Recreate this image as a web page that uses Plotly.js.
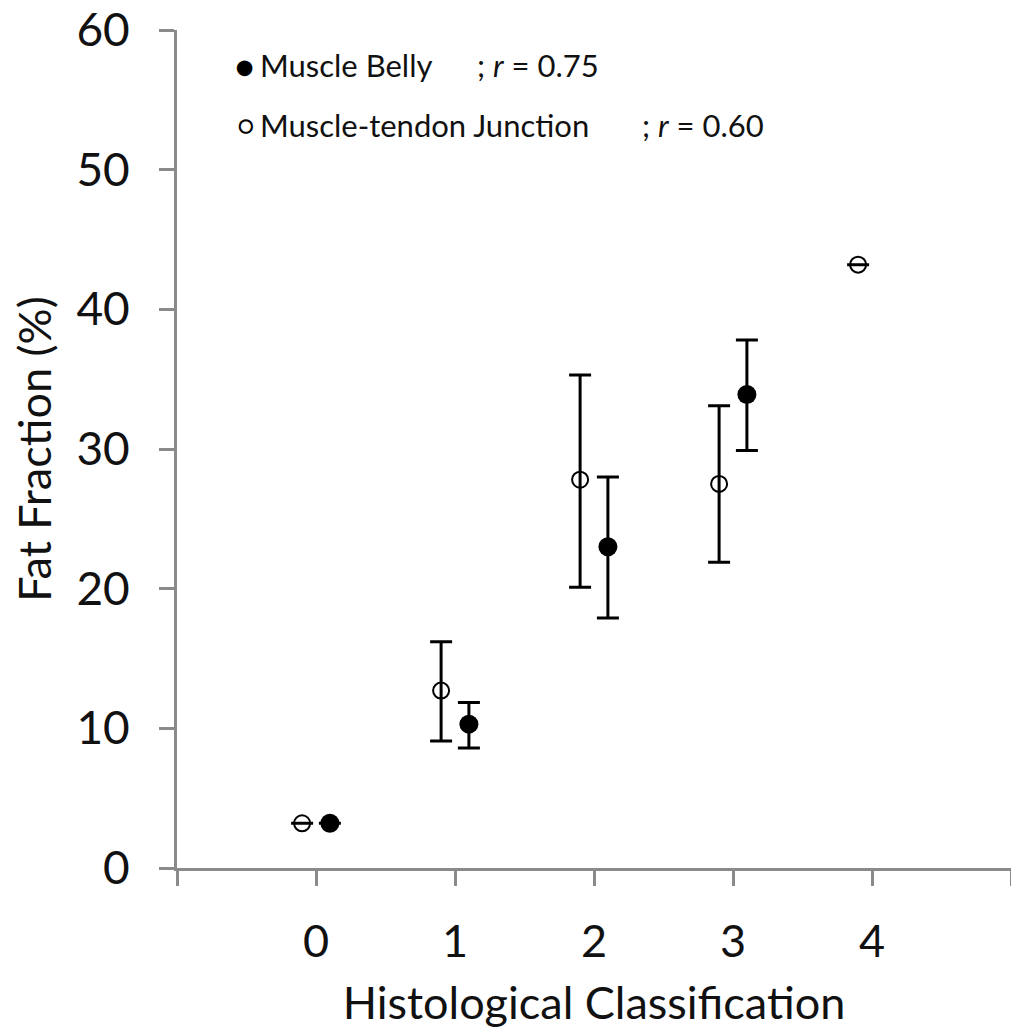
<!DOCTYPE html>
<html><head><meta charset="utf-8">
<script src="https://cdn.plot.ly/plotly-3.0.1.min.js"></script>
<style>html,body{margin:0;padding:0;overflow:hidden;background:#fff}</style>
</head><body><div id="chart"></div>
<script>
// Muscle Belly (filled)
const mbX = [0.1, 1.1, 2.1, 3.1];
const mbY = [3.2, 10.3, 23.0, 33.9];
const mbErrPlus = [0, 1.55, 5.0, 3.9];
const mbErrMinus = [0, 1.7, 5.1, 4.0];
// Muscle-tendon Junction (open)
const mtjX = [-0.1, 0.9, 1.9, 2.9, 3.9];
const mtjY = [3.2, 12.7, 27.8, 27.5, 43.2];
const mtjErrPlus = [0, 3.5, 7.5, 5.6, 0];
const mtjErrMinus = [0, 3.6, 7.7, 5.6, 0];

const xTickVals = [-1, 0, 1, 2, 3, 4, 5];
const xTickText = ['', '0', '1', '2', '3', '4', ''];
const yTickVals = [0, 10, 20, 30, 40, 50, 60];

const legendRows = [
  {symbol: '●', name: 'Muscle Belly', r: '0.75'},
  {symbol: '○', name: 'Muscle-tendon Junction', r: '0.60'}
];

const FONT = 'Lato, "Open Sans", sans-serif';
const AXC = '#8a8a8a';
const TXT = '#111';

const traces = [
  {
    x: mtjX, y: mtjY, type: 'scatter', mode: 'markers', name: 'Muscle-tendon Junction',
    marker: {symbol: 'circle-open', size: 16, color: '#000', line: {width: 2, color: '#000'}},
    error_y: {type: 'data', symmetric: false, array: mtjErrPlus, arrayminus: mtjErrMinus,
      thickness: 3, width: 11, color: '#000'},
    showlegend: false
  },
  {
    x: mbX, y: mbY, type: 'scatter', mode: 'markers', name: 'Muscle Belly',
    marker: {symbol: 'circle', size: 19, color: '#000'},
    error_y: {type: 'data', symmetric: false, array: mbErrPlus, arrayminus: mbErrMinus,
      thickness: 3, width: 11, color: '#000'},
    showlegend: false
  }
];

const annotations = [];
const rowY = [65, 125];
const nameX = 258, rX = [475, 640];
legendRows.forEach((row, i) => {
  annotations.push({xref: 'paper', yref: 'paper', x: (nameX - 2 - 177) / 834, y: 1 - (rowY[i] - 30) / 838,
    text: row.symbol, showarrow: false, xanchor: 'right', yanchor: 'middle',
    font: {family: FONT, size: i === 0 ? 32 : 26, color: '#000'}});
  annotations.push({xref: 'paper', yref: 'paper', x: (nameX - 177) / 834, y: 1 - (rowY[i] - 30) / 838,
    text: row.name, showarrow: false, xanchor: 'left', yanchor: 'middle',
    font: {family: FONT, size: 31, color: TXT}});
  annotations.push({xref: 'paper', yref: 'paper', x: (rX[i] - 177) / 834, y: 1 - (rowY[i] - 30) / 838,
    text: '; <i>r</i> = ' + row.r, showarrow: false, xanchor: 'left', yanchor: 'middle',
    font: {family: FONT, size: 31, color: TXT}});
});

const layout = {
  width: 1011, height: 1036,
  margin: {l: 177, r: 0, t: 30, b: 168},
  paper_bgcolor: '#fff', plot_bgcolor: '#fff',
  font: {family: FONT, color: TXT},
  showlegend: false,
  xaxis: {
    range: [-1, 5], tickvals: xTickVals, ticktext: xTickText,
    showgrid: false, zeroline: false, showline: true, linecolor: AXC, linewidth: 3,
    ticks: 'outside', ticklen: 15, tickwidth: 3, tickcolor: AXC,
    tickfont: {family: FONT, size: 45, color: TXT}, ticklabelstandoff: 17,
    title: {text: 'Histological Classification', font: {family: FONT, size: 45, color: TXT}, standoff: 22}
  },
  yaxis: {
    range: [0, 60], tickvals: yTickVals,
    showgrid: false, zeroline: false, showline: true, linecolor: AXC, linewidth: 3,
    ticks: 'outside', ticklen: 15, tickwidth: 3, tickcolor: AXC,
    tickfont: {family: FONT, size: 46, color: TXT}, ticklabelstandoff: 20,
    title: {text: 'Fat Fraction (%)', font: {family: FONT, size: 45, color: TXT}, standoff: 11}
  },
  annotations: annotations
};

Plotly.newPlot('chart', traces, layout, {displayModeBar: false, staticPlot: true});
</script>
</body></html>
